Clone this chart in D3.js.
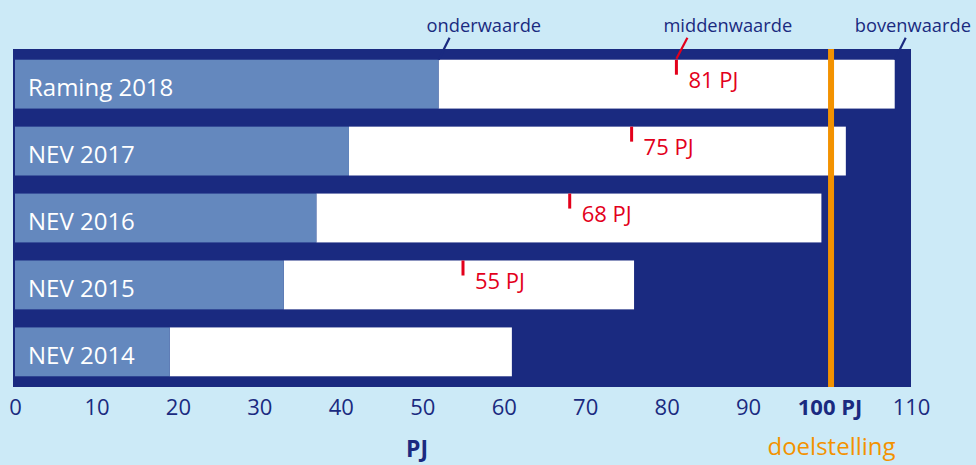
<!DOCTYPE html>
<html>
<head>
<meta charset="utf-8">
<script src="https://cdn.jsdelivr.net/npm/d3@7"></script>
<style>
  html, body { margin: 0; padding: 0; background: #cceaf7; }
  svg { display: block; font-family: "Open Sans", sans-serif; }
</style>
</head>
<body>
<div id="chart"></div>
<script>
// data
const categories = ["Raming 2018", "NEV 2017", "NEV 2016", "NEV 2015", "NEV 2014"];
const lowerValues = [52, 41, 37, 33, 19];
const upperValues = [108, 102, 99, 76, 61];
const midValues = [81.2, 75.7, 68.1, 55, null];
const midLabels = ["81 PJ", "75 PJ", "68 PJ", "55 PJ", null];
const xTicks = [0, 10, 20, 30, 40, 50, 60, 70, 80, 90, 100, 110];
const goalValue = 100;
const goalTickLabel = "100 PJ";
const goalLabel = "doelstelling";
const axisTitle = "PJ";
const annotationLabels = ["onderwaarde", "middenwaarde", "bovenwaarde"];

const navy = "#1a2a80";
const steel = "#6488be";
const red = "#e3001b";
const orange = "#f39200";

const width = 976, height = 465;
const plot = { left: 13, right: 911, top: 49, bottom: 387 };

const svg = d3.select("#chart").append("svg")
  .attr("width", width)
  .attr("height", height);

const x = d3.scaleLinear().domain([0, 110]).range([15, 911]);
const y = d3.scaleBand()
  .domain(categories)
  .range([plot.top, plot.bottom])
  .paddingInner(0.27)
  .paddingOuter(0.16);

// navy plot area
svg.append("rect")
  .attr("x", plot.left)
  .attr("y", plot.top)
  .attr("width", plot.right - plot.left)
  .attr("height", plot.bottom - plot.top)
  .attr("fill", navy);

const rows = svg.append("g").selectAll("g")
  .data(categories)
  .join("g")
  .attr("transform", d => `translate(0,${y(d)})`);

// range lower..upper in white
rows.append("rect")
  .attr("x", (d, i) => x(lowerValues[i]))
  .attr("width", (d, i) => x(upperValues[i]) - x(lowerValues[i]))
  .attr("height", y.bandwidth())
  .attr("fill", "#fff");

// 0..lower in steel blue
rows.append("rect")
  .attr("x", x(0))
  .attr("width", (d, i) => x(lowerValues[i]) - x(0))
  .attr("height", y.bandwidth())
  .attr("fill", steel);

rows.append("text")
  .attr("x", 28)
  .attr("y", y.bandwidth() / 2 + 12)
  .attr("fill", "#fff")
  .style("font-size", "24px")
  .text(d => d);

// middle value ticks
const mids = rows.filter((d, i) => midValues[i] != null);
mids.append("rect")
  .attr("x", d => x(midValues[categories.indexOf(d)]) - 1.5)
  .attr("y", 0)
  .attr("width", 3)
  .attr("height", 15)
  .attr("fill", red);
mids.append("text")
  .attr("x", d => x(midValues[categories.indexOf(d)]) + 12)
  .attr("y", 28.5)
  .attr("fill", red)
  .style("font-size", "22px")
  .text(d => midLabels[categories.indexOf(d)]);

// goal line
svg.append("line")
  .attr("x1", x(goalValue) + 1.5)
  .attr("x2", x(goalValue) + 1.5)
  .attr("y1", plot.top)
  .attr("y2", plot.bottom)
  .attr("stroke", orange)
  .attr("stroke-width", 6);

// annotations above the first bar
const top0 = y(categories[0]);
const annots = [
  { label: annotationLabels[0], v: lowerValues[0], color: navy, dx: -23, y2: top0 },
  { label: annotationLabels[1], v: midValues[0], color: red, dx: -24, y2: top0 - 1 },
  { label: annotationLabels[2], v: upperValues[0], color: navy, dx: -51, y2: top0 }
];
annots.forEach(a => {
  const tx = x(a.v) + 11, ty = top0 - 22;
  svg.append("line")
    .attr("x1", tx).attr("y1", ty)
    .attr("x2", x(a.v)).attr("y2", a.y2)
    .attr("stroke", a.color)
    .attr("stroke-width", 2.2);
  svg.append("text")
    .attr("x", tx + a.dx)
    .attr("y", 32)
    .attr("fill", navy)
    .style("font-size", "18.3px")
    .text(a.label);
});

// x axis
const xAxis = d3.axisBottom(x)
  .tickValues(xTicks)
  .tickSize(0)
  .tickPadding(0)
  .tickFormat(d => d === goalValue ? goalTickLabel : d);

const axisG = svg.append("g")
  .attr("transform", `translate(0,${plot.bottom})`)
  .call(xAxis);
axisG.select(".domain").remove();
axisG.selectAll("text")
  .attr("dy", null)
  .attr("y", 28)
  .attr("fill", navy)
  .style("font-family", "'Open Sans', sans-serif")
  .style("font-size", "22px")
  .style("font-weight", d => d === goalValue ? 700 : 400);

svg.append("text")
  .attr("x", 417)
  .attr("y", 457)
  .attr("text-anchor", "middle")
  .attr("fill", navy)
  .style("font-size", "23px")
  .style("font-weight", 700)
  .text(axisTitle);

svg.append("text")
  .attr("x", x(goalValue) + 2)
  .attr("y", 455)
  .attr("text-anchor", "middle")
  .attr("fill", orange)
  .style("font-size", "24px")
  .text(goalLabel);
</script>
</body>
</html>
